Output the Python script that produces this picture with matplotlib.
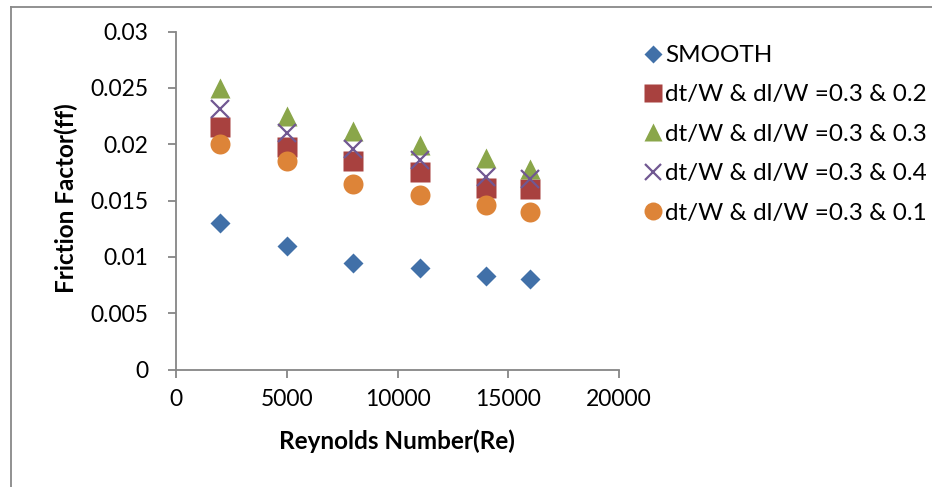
import matplotlib
matplotlib.use("Agg")
import matplotlib.pyplot as plt
from matplotlib.ticker import FuncFormatter
from matplotlib.lines import Line2D

plt.rcParams['font.family'] = ['Lato', 'DejaVu Sans']

# Friction factor vs Reynolds number for smooth and ribbed ducts
re = [2000, 5000, 8000, 11000, 14000, 16000]
ff_smooth = [0.0130, 0.0110, 0.0095, 0.0090, 0.0083, 0.0080]
ff_02 = [0.0215, 0.0198, 0.0185, 0.0175, 0.0161, 0.0160]
ff_03 = [0.0250, 0.0225, 0.0212, 0.0199, 0.0188, 0.0178]
ff_04 = [0.0231, 0.0210, 0.0196, 0.0186, 0.0171, 0.0169]
ff_01 = [0.0200, 0.0185, 0.0165, 0.0155, 0.0146, 0.0140]

labels = ["SMOOTH",
          "dt/W & dl/W =0.3 & 0.2",
          "dt/W & dl/W =0.3 & 0.3",
          "dt/W & dl/W =0.3 & 0.4",
          "dt/W & dl/W =0.3 & 0.1"]
x_ticks = [0, 5000, 10000, 15000, 20000]
y_ticks = [0, 0.005, 0.01, 0.015, 0.02, 0.025, 0.03]

W, H = 932, 487
fig = plt.figure(figsize=(W / 100, H / 100), dpi=100)
ax = fig.add_axes([176 / W, 1 - 369.5 / H, (619 - 176) / W, (369.5 - 31.7) / H])

styles = [
    (ff_smooth, "D", "#4170A8", 10.2),
    (ff_02, "s", "#A8413F", 14.4),
    (ff_03, "^", "#8AA64A", 14.4),
    (ff_04, "x", "#715892", 13.5),
    (ff_01, "o", "#DD8438", 14.4),
]
for (vals, mk, col, ms), lab in zip(styles, labels):
    if mk == "x":
        ax.plot(re, vals, ls="none", marker=mk, ms=ms, color=col,
                mew=1.6, label=lab)
    else:
        ax.plot(re, vals, ls="none", marker=mk, ms=ms, color=col,
                mec="none", label=lab)

ax.set_xlim(0, 20000)
ax.set_ylim(0, 0.03)
ax.set_xticks(x_ticks)
ax.set_yticks(y_ticks)
ax.yaxis.set_major_formatter(FuncFormatter(lambda v, p: "%g" % v))
for s in ["top", "right"]:
    ax.spines[s].set_visible(False)
for s in ["left", "bottom"]:
    ax.spines[s].set_color("#868686")
    ax.spines[s].set_linewidth(1.3)
ax.tick_params(direction="out", length=6, width=1.3, color="#868686",
               labelsize=16.5, pad=14)
ax.tick_params(axis="x", pad=8)

fig.text(397 / W, 1 - 441 / H, "Reynolds Number(Re)", ha="center",
         va="center", fontsize=17.5, fontweight="bold")
fig.text(66 / W, 1 - 198 / H, "Friction Factor(ff)", ha="center",
         va="center", rotation=90, fontsize=17.5, fontweight="bold")

leg = ax.legend(loc="upper left", bbox_to_anchor=(643 / W, 1 - 45 / H),
                bbox_transform=fig.transFigure, frameon=False,
                fontsize=17.5, handlelength=0.8, handletextpad=0.1,
                labelspacing=0.76, borderpad=0, borderaxespad=0,
                markerscale=0.9)

# chart area border (left and top edges)
fig.add_artist(Line2D([10.5 / W, 10.5 / W], [0, 1 - 7 / H],
                      transform=fig.transFigure, color="#888888", lw=1.3))
fig.add_artist(Line2D([10.5 / W, 1], [1 - 7 / H, 1 - 7 / H],
                      transform=fig.transFigure, color="#888888", lw=1.3))

fig.savefig("out.png", dpi=100)
